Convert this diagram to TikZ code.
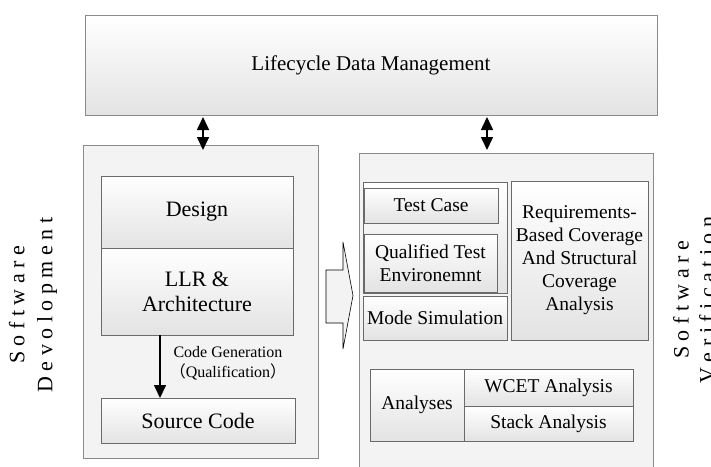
\documentclass[tikz,border=0pt]{standalone}
\usepackage{fontspec}
\setmainfont{Liberation Serif}
\newfontfamily\cjk{Noto Sans CJK SC}
\usetikzlibrary{positioning,arrows.meta}
\definecolor{panelfill}{HTML}{F3F3F3}
\definecolor{panelline}{HTML}{8A8A8A}
\definecolor{blockline}{HTML}{6A6A6A}
\definecolor{blockshade}{HTML}{E3E3E3}
\newcommand\titlefont{\fontsize{21}{25}\selectfont}
\newcommand\devfont{\fontsize{22}{25}\selectfont}
\newcommand\verfont{\fontsize{19.5}{23}\selectfont}
\newcommand\notefont{\fontsize{16}{20}\selectfont}
\newcommand\sidefont{\fontsize{22}{28}\selectfont}
\begin{document}
\begin{tikzpicture}[x=1pt, y=-1pt,
    panel/.style={draw=panelline, fill=panelfill, line width=0.8pt, outer sep=0pt, inner sep=0pt},
    block/.style={draw=blockline, top color=white, bottom color=blockshade, line width=0.8pt,
      align=center, outer sep=0pt, inner sep=0pt},
    link/.style={line width=1.6pt, >={Triangle[length=13pt,width=12pt]}},
    side/.style={rotate=90, align=center, font=\sidefont}]
      \useasboundingbox (0,0) rectangle (711,466);
      \node[block, draw=panelline, minimum width=572, minimum height=100, font=\titlefont]
        (lifecycle-box) at (371,65) {Lifecycle Data Management};
      \node[panel, minimum width=235, minimum height=313] (dev-box) at (200.5,301.5) {};
      \node[panel, minimum width=294, minimum height=327] (ver-box) at (506,316.5) {};
      \coordinate (dev-link) at (203,150);
      \coordinate (ver-link) at (487,150);
      \draw[link, <->] (lifecycle-box.south -| dev-link) ++(0,2) -- (dev-link);
      \draw[link, <->] (lifecycle-box.south -| ver-link) ++(0,2) -- (ver-link);
      \node[block, minimum width=192, minimum height=72, font=\devfont] (design-box) at (197,212) {Design};
      \node[block, minimum width=192, minimum height=87, font=\devfont, below=0pt of design-box]
        (llr-box) {LLR \&\\Architecture};
      \node[block, minimum width=194, minimum height=45, font=\devfont] (source-box) at (198,420.5) {Source Code};
      \coordinate (gen-start) at (160,335);
      \draw[link, ->] (gen-start) -- (gen-start |- source-box.north);
      \node[align=center, font=\notefont] (gen-note) at (228,363)
        {Code Generation\\{\cjk （}Qualification{\cjk ）}};
      \draw[line width=0.6pt, fill=panelfill] (326,270) -- (343,270) -- (343,242) -- (353,295.5)
        -- (343,349) -- (343,323) -- (326,323) -- cycle;
      \node[block, minimum width=144, minimum height=111] (test-group) at (435,237.5) {};
      \node[block, minimum width=134, minimum height=35, font=\verfont] (test-case) at (431,205.5) {Test Case};
      \node[block, minimum width=133, minimum height=58, font=\verfont] (qual-env) at (430.5,263)
        {Qualified Test\\Environemnt};
      \node[block, minimum width=144, minimum height=44, font=\verfont] (mode-sim) at (435,318) {Mode Simulation};
      \node[block, minimum width=137, minimum height=159, font=\verfont] (req-box) at (579.5,260.5)
        {Requirements-\\Based Coverage\\And Structural\\Coverage\\Analysis};
      \node[block, minimum width=94, minimum height=72, font=\verfont] (analyses-box) at (417,405) {Analyses};
      \node[block, minimum width=169, minimum height=37, font=\verfont, anchor=north west]
        (wcet-box) at (analyses-box.north east) {WCET Analysis};
      \node[block, minimum width=169, minimum height=35, font=\verfont, below=0pt of wcet-box]
        (stack-box) {Stack Analysis};
      \node[side] (dev-label) at (33,305) {S o f t w a r e\\D e v o l o p m e n t};
      \node[side] (ver-label) at (694,300) {S o f t w a r e\\[-2pt]V e r i f i c a t i o n};
\end{tikzpicture}
\end{document}
